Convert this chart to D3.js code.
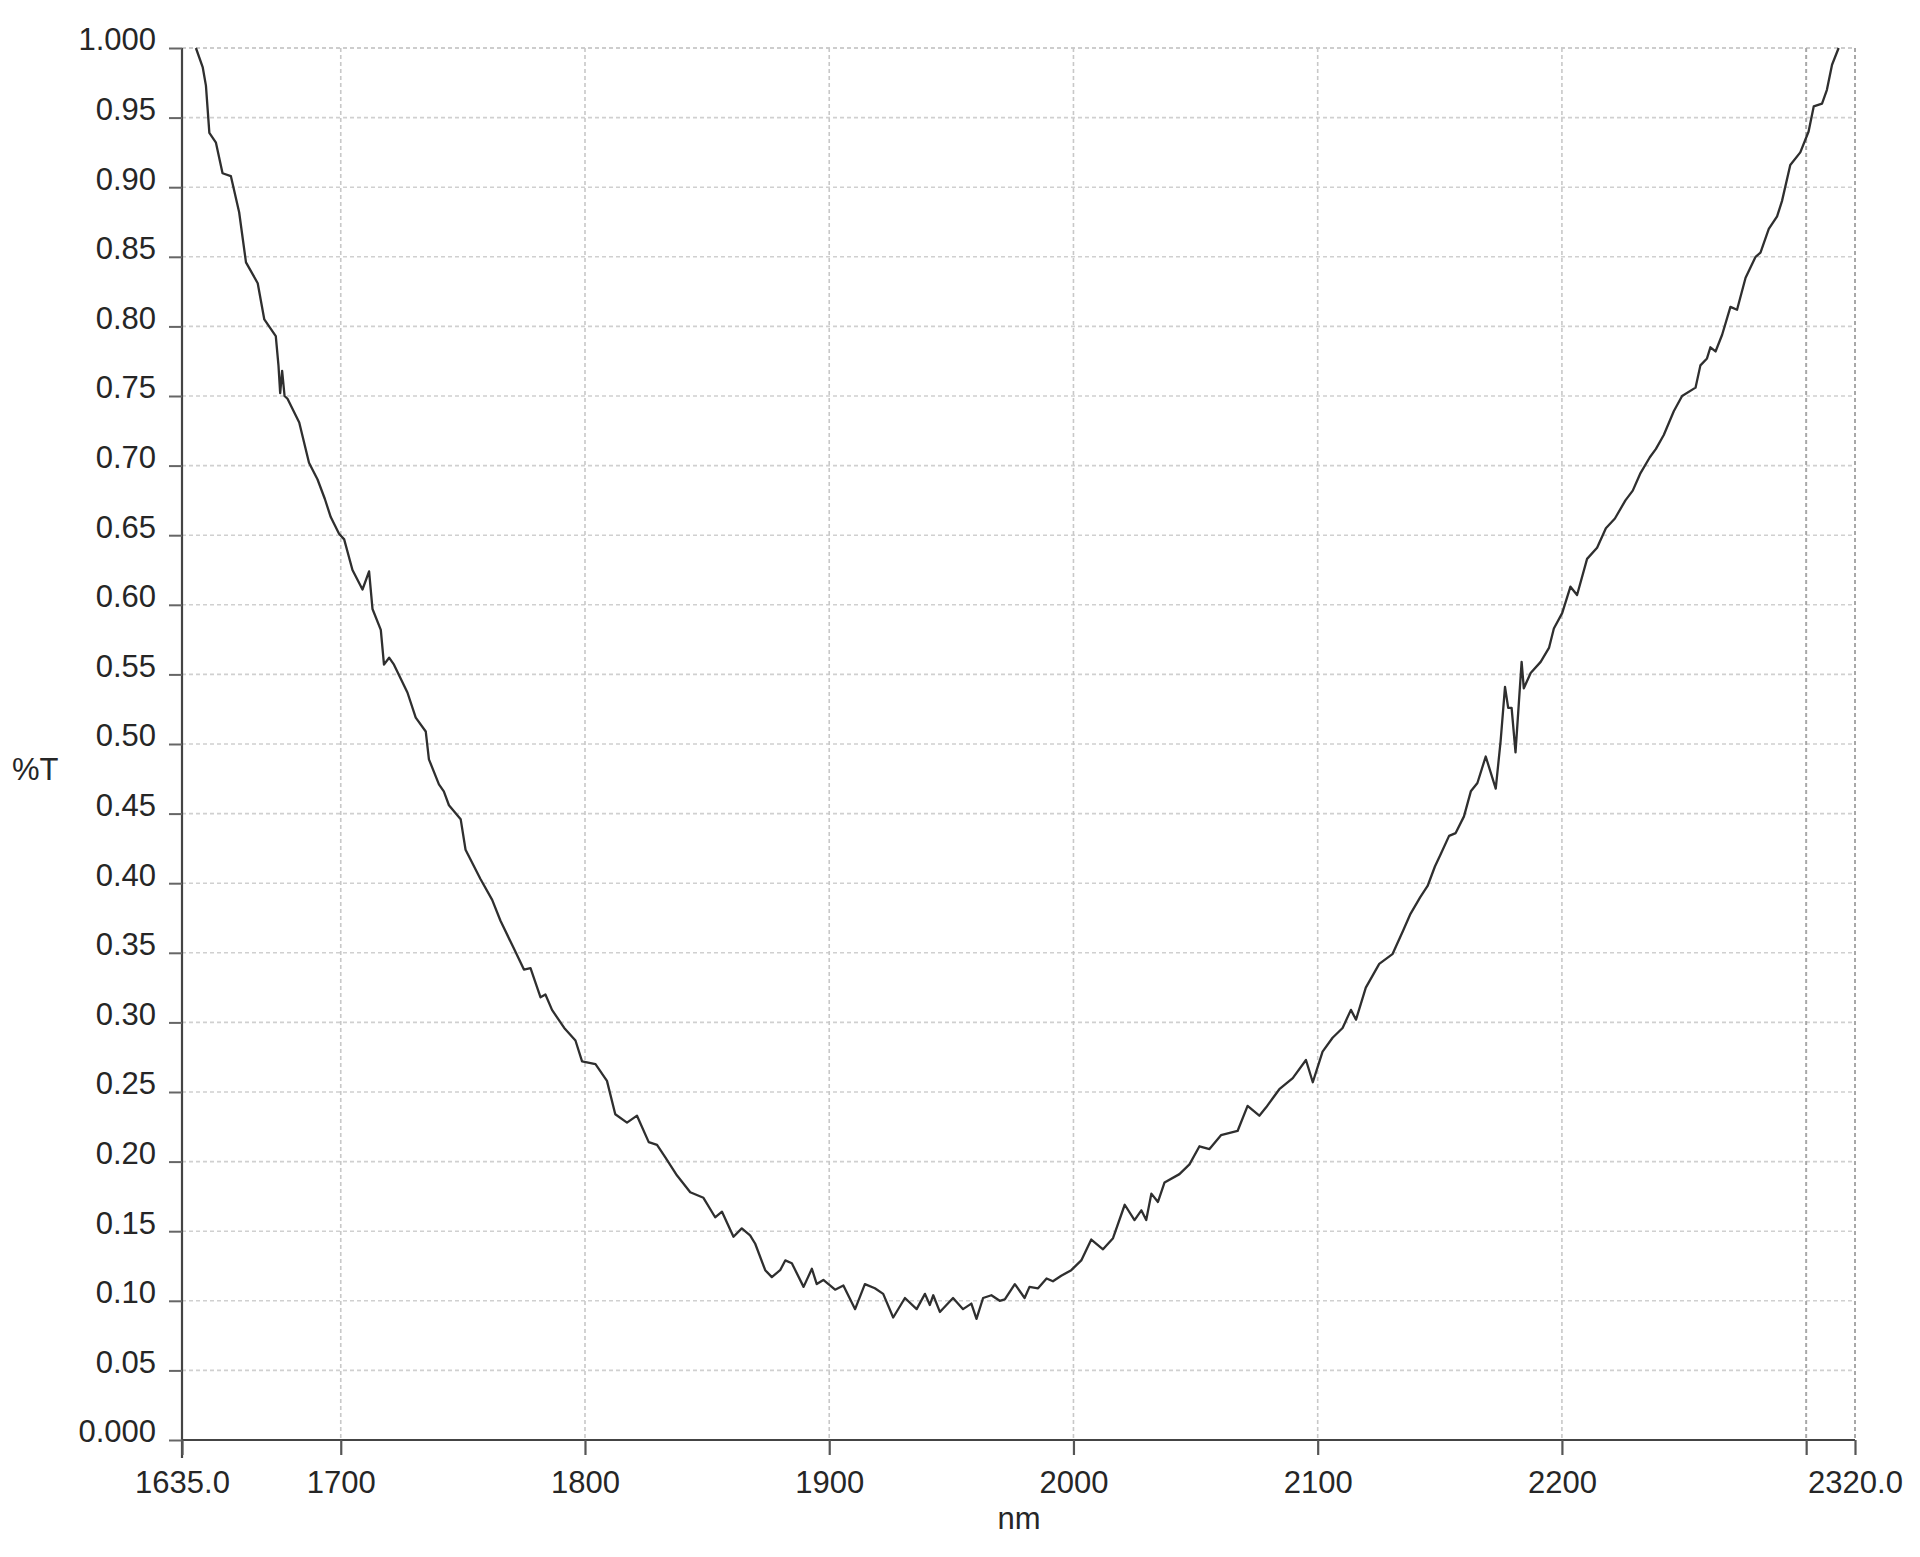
<!DOCTYPE html>
<html>
<head>
<meta charset="utf-8">
<script src="https://cdn.jsdelivr.net/npm/d3@7"></script>
<style>
  html, body { margin: 0; padding: 0; background: #ffffff; }
  svg { display: block; }
  text { font-family: "Liberation Sans", Arial, sans-serif; fill: #262626; }
</style>
</head>
<body>
<svg id="chart" width="1920" height="1557"></svg>
<script>
// ---- data ----
const wavelength = [
  1640.7,1643.5,1644.8,1646.2,1648.9,1651.6,1655.0,1658.4,1661.2,1666.0,
  1668.7,1673.4,1674.5,1675.2,1676.0,1677.0,1678.2,1683.0,1687.0,1690.5,
  1693.5,1695.9,1699.3,1701.4,1704.8,1708.9,1711.6,1713.0,1716.4,1717.7,
  1719.8,1721.8,1727.3,1730.7,1734.8,1736.1,1740.2,1742.2,1744.3,1749.1,
  1751.1,1757.2,1762.0,1765.4,1770.9,1775.0,1777.7,1781.8,1783.8,1786.5,
  1791.5,1796.1,1798.8,1804.3,1809.0,1812.4,1817.2,1821.3,1826.1,1829.5,
  1832.9,1837.7,1843.1,1848.5,1853.3,1856.1,1860.8,1864.2,1867.6,1869.7,
  1873.8,1876.5,1879.9,1882.0,1884.7,1889.5,1892.9,1894.9,1897.6,1902.4,
  1905.8,1910.6,1914.6,1918.7,1922.1,1926.2,1931.0,1935.8,1939.2,1941.2,
  1942.6,1945.3,1950.7,1954.8,1958.2,1960.3,1963.0,1966.4,1969.8,1971.9,
  1976.0,1980.0,1982.0,1985.5,1989.0,1991.6,1995.0,1999.1,2003.2,2007.3,
  2012.1,2016.2,2021.0,2025.0,2027.8,2029.8,2031.9,2034.6,2037.3,2043.4,
  2047.5,2051.6,2055.7,2060.4,2067.2,2071.3,2076.1,2078.9,2084.3,2089.8,
  2095.2,2098.0,2102.0,2106.1,2110.2,2113.6,2115.7,2119.7,2125.2,2130.6,
  2135.0,2138.0,2142.0,2145.0,2148.0,2150.4,2153.8,2156.5,2159.9,2162.7,
  2165.4,2168.8,2172.9,2174.9,2176.7,2178.0,2179.4,2181.0,2183.5,2184.4,
  2187.2,2191.3,2194.7,2196.7,2200.1,2203.5,2206.2,2210.3,2214.4,2218.0,
  2221.7,2226.0,2229.0,2232.0,2236.0,2238.5,2241.7,2245.8,2249.2,2254.7,
  2256.7,2259.4,2260.8,2262.9,2265.6,2269.0,2271.7,2275.2,2279.3,2281.3,
  2284.7,2288.1,2290.1,2293.5,2297.6,2301.0,2303.1,2306.5,2308.5,2310.6,
  2313.3
];
const transmittance = [
  1.000,0.986,0.973,0.939,0.932,0.910,0.908,0.882,0.846,0.831,
  0.805,0.793,0.772,0.752,0.768,0.750,0.748,0.731,0.702,0.690,
  0.676,0.663,0.651,0.647,0.625,0.611,0.624,0.597,0.582,0.557,
  0.562,0.557,0.537,0.519,0.509,0.489,0.471,0.466,0.456,0.446,
  0.424,0.403,0.388,0.373,0.353,0.338,0.339,0.318,0.320,0.309,
  0.296,0.287,0.272,0.270,0.258,0.234,0.228,0.233,0.214,0.212,
  0.203,0.190,0.178,0.174,0.160,0.164,0.146,0.152,0.147,0.141,
  0.122,0.117,0.122,0.129,0.127,0.110,0.123,0.112,0.115,0.108,
  0.111,0.094,0.112,0.109,0.105,0.088,0.102,0.094,0.105,0.097,
  0.104,0.092,0.102,0.094,0.098,0.087,0.102,0.104,0.100,0.101,
  0.112,0.102,0.110,0.109,0.116,0.114,0.118,0.122,0.129,0.144,
  0.137,0.145,0.169,0.158,0.165,0.158,0.177,0.171,0.185,0.191,
  0.198,0.211,0.209,0.219,0.222,0.240,0.233,0.239,0.252,0.260,
  0.273,0.257,0.279,0.289,0.296,0.309,0.302,0.325,0.342,0.349,
  0.366,0.378,0.390,0.398,0.412,0.421,0.434,0.436,0.448,0.466,
  0.472,0.491,0.468,0.502,0.541,0.526,0.526,0.494,0.559,0.540,
  0.551,0.559,0.569,0.583,0.594,0.613,0.607,0.633,0.641,0.655,
  0.662,0.675,0.682,0.694,0.706,0.712,0.722,0.739,0.750,0.756,
  0.772,0.777,0.785,0.782,0.794,0.814,0.812,0.835,0.850,0.853,
  0.870,0.879,0.890,0.916,0.925,0.940,0.958,0.960,0.970,0.988,
  1.000
];
const xTickValues = [1635, 1700, 1800, 1900, 2000, 2100, 2200, 2300, 2320];
const xTickLabels = ["1635.0", "1700", "1800", "1900", "2000", "2100", "2200", "", "2320.0"];
const yTickValues = [0, 0.05, 0.10, 0.15, 0.20, 0.25, 0.30, 0.35, 0.40, 0.45, 0.50,
                     0.55, 0.60, 0.65, 0.70, 0.75, 0.80, 0.85, 0.90, 0.95, 1.0];
const yTickLabels = ["0.000","0.05","0.10","0.15","0.20","0.25","0.30","0.35","0.40","0.45","0.50",
                     "0.55","0.60","0.65","0.70","0.75","0.80","0.85","0.90","0.95","1.000"];
const xGridValues = [1700, 1800, 1900, 2000, 2100, 2200, 2300, 2320];
const yGridValues = yTickValues.slice(1);
const xTitle = "nm";
const yTitle = "%T";

// ---- layout ----
const L = 182, R = 1855, T = 48, B = 1440;
const svg = d3.select("#chart");
const x = d3.scaleLinear().domain([1635, 2320]).range([L, R]);
const y = d3.scaleLinear().domain([0, 1]).range([B, T]);

// grid
const grid = svg.append("g");
grid.selectAll("line.hg").data(yGridValues).join("line")
  .attr("x1", L).attr("x2", R)
  .attr("y1", d => y(d)).attr("y2", d => y(d))
  .attr("stroke", d => d === 1 ? "#bdbdbd" : "#d0d0d0").attr("stroke-width", 1.6)
  .attr("stroke-dasharray", "4,3");
grid.selectAll("line.vg").data(xGridValues).join("line")
  .attr("x1", d => x(d)).attr("x2", d => x(d))
  .attr("y1", T).attr("y2", B)
  .attr("stroke", d => d >= 2300 ? "#a8a8a8" : "#c8c8c8")
  .attr("stroke-width", d => d >= 2300 ? 2 : 1.6)
  .attr("stroke-dasharray", "4,3");

// curve
const pts = wavelength.map((w, i) => [w, transmittance[i]]);
svg.append("path")
  .datum(pts)
  .attr("fill", "none")
  .attr("stroke", "#2f2f2f")
  .attr("stroke-width", 2.3)
  .attr("stroke-linejoin", "round")
  .attr("d", d3.line().x(d => x(d[0])).y(d => y(d[1])));

// axes
const yAxis = d3.axisLeft(y)
  .tickValues(yTickValues)
  .tickFormat((d, i) => yTickLabels[i])
  .tickSize(13).tickPadding(13);
const gy = svg.append("g").attr("transform", `translate(${L},0)`).call(yAxis);
gy.select(".domain").attr("stroke", "#444").attr("stroke-width", 2.2)
  .attr("d", `M0,${T}V${B + 18}`);
gy.selectAll(".tick line").attr("stroke", "#666").attr("stroke-width", 2);
gy.selectAll(".tick text")
  .attr("dy", "0.06em")
  .style("font-size", "31px")
  .style("font-family", '"Liberation Sans", Arial, sans-serif')
  .attr("fill", "#262626");

const xAxis = d3.axisBottom(x)
  .tickValues(xTickValues)
  .tickFormat((d, i) => xTickLabels[i])
  .tickSize(15).tickPadding(16);
const gx = svg.append("g").attr("transform", `translate(0,${B})`).call(xAxis);
gx.select(".domain").attr("stroke", "#444").attr("stroke-width", 2.2)
  .attr("d", `M${L},0H${R}`);
gx.selectAll(".tick line").attr("stroke", "#555").attr("stroke-width", 2.2);
gx.selectAll(".tick text")
  .style("font-size", "31px")
  .style("font-family", '"Liberation Sans", Arial, sans-serif')
  .attr("fill", "#262626");

// titles
svg.append("text").attr("x", 12).attr("y", 780)
  .style("font-size", "31px").text(yTitle);
svg.append("text").attr("x", 1019).attr("y", 1529)
  .attr("text-anchor", "middle")
  .style("font-size", "31px").text(xTitle);
</script>
</body>
</html>
